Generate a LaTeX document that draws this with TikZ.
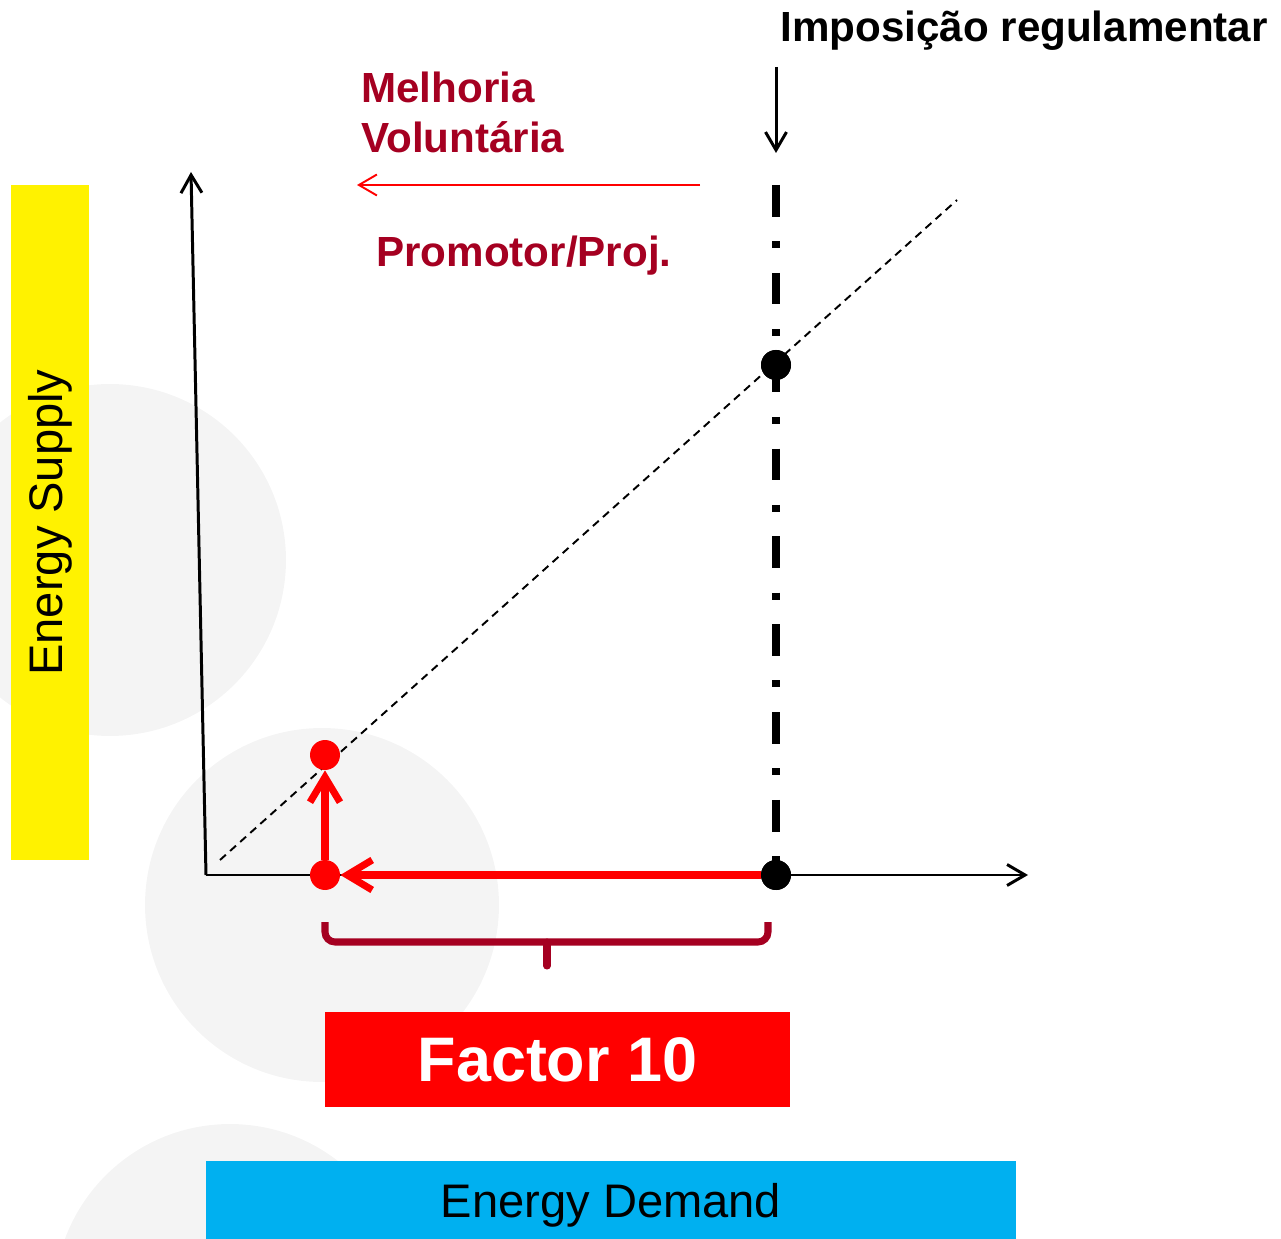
\documentclass[tikz,border=0pt]{standalone}
\usepackage{fontspec}
\setmainfont{Liberation Sans}
\usetikzlibrary{arrows.meta}
\definecolor{darkred}{RGB}{165, 0, 33}
\definecolor{lightgrey}{RGB}{244, 244, 244}
\definecolor{skyblue}{RGB}{0, 176, 240}
\tikzset{
	dot/.style = {circle, fill = black, inner sep = 0pt, minimum size = 0.6cm},
	reddot/.style = {dot, fill = red},
	axis/.style = {line width = 1.7pt, -{Straight Barb[length = 0.36cm, width = 0.42cm]}},
	redarrow/.style = {red, line width = 4pt, -{Straight Barb[length = 0.5cm, width = 0.6cm]}},
	bigfont/.style = {inner sep = 0pt, font = \fontsize{24}{29}\selectfont\bfseries}
}

\begin{document}
\begin{tikzpicture}[x = 0.02cm, y = -0.02cm]
	\useasboundingbox (0,0) rectangle (1281,1239);
	\begin{scope}
		\clip (0,0) rectangle (1281,1239);
		\fill[lightgrey] (110,560) circle (3.52cm);
		\fill[lightgrey] (322,905) circle (3.54cm);
		\fill[lightgrey] (230,1300) circle (3.52cm);
	\end{scope}

	% boxes
	\node (supply) at (50,522.5) [fill = yellow, rotate = 90, minimum width = 13.5cm, minimum height = 1.56cm, font = \fontsize{26.8}{32}\selectfont] {Energy Supply};
	\node (demand) at (611,1200) [fill = skyblue, minimum width = 16.2cm, minimum height = 1.56cm, font = \fontsize{26.8}{32}\selectfont] {\raisebox{-0.1cm}[\height][\depth]{Energy Demand}};
	\node (factor) at (557.5,1059.5) [fill = red, text = white, minimum width = 9.3cm, minimum height = 1.9cm, font = \fontsize{35.8}{42}\selectfont\bfseries] {Factor 10};

	% axes
	\coordinate (o) at (206,875);
	\coordinate (ytop) at (191,172);
	\coordinate (xend) at (1028,875);
	\draw[axis] (o) -- (ytop);
	\draw[axis] (o) -- (xend);
	\draw[line width = 1.1pt, dash pattern = on 4.5pt off 3.2pt] (220,860) -- (957,200);

	% labels
	\node (imp) at (780,42) [anchor = base west, bigfont] {Imposição regulamentar};
	\node (mel) at (361,103) [anchor = base west, bigfont, darkred] {Melhoria};
	\node (vol) at (361,153) [anchor = base west, bigfont, darkred] {Voluntária};
	\node (prom) at (376,267) [anchor = base west, bigfont, darkred] {Promotor/Proj.};

	\coordinate (impa) at (776,67);
	\coordinate (impb) at (776,153);
	\draw[line width = 1.7pt, -{Straight Barb[length = 0.36cm, width = 0.42cm]}] (impa) -- (impb);
	\coordinate (vola) at (700,185);
	\coordinate (volb) at (357,185);
	\draw[red, line width = 1.1pt, -{Straight Barb[length = 0.36cm, width = 0.42cm]}] (vola) -- (volb);

	% points
	\coordinate (limit) at (776,185);
	\node (tb) at (776,365) [dot] {};
	\node (bb) at (776,875) [dot] {};
	\node (rb) at (325,875) [reddot] {};
	\node (rt) at (325,755) [reddot] {};
	\draw[line width = 4pt, dash pattern = on 18pt off 14pt on 4pt off 14pt] (limit) -- (bb.center);
	\node at (tb) [dot] {};
	\draw[redarrow] (bb) -- (rb);
	\draw[redarrow] (rb) -- (rt);
	\node at (bb) [dot] {};

	% brace
	\draw[darkred, line width = 4pt, rounded corners = 0.2cm] (325,922) -- (325,942) -- (768,942) -- (768,922);
	\draw[darkred, line width = 4pt, line cap = round] (547,942) -- (547,966);
\end{tikzpicture}
\end{document}
